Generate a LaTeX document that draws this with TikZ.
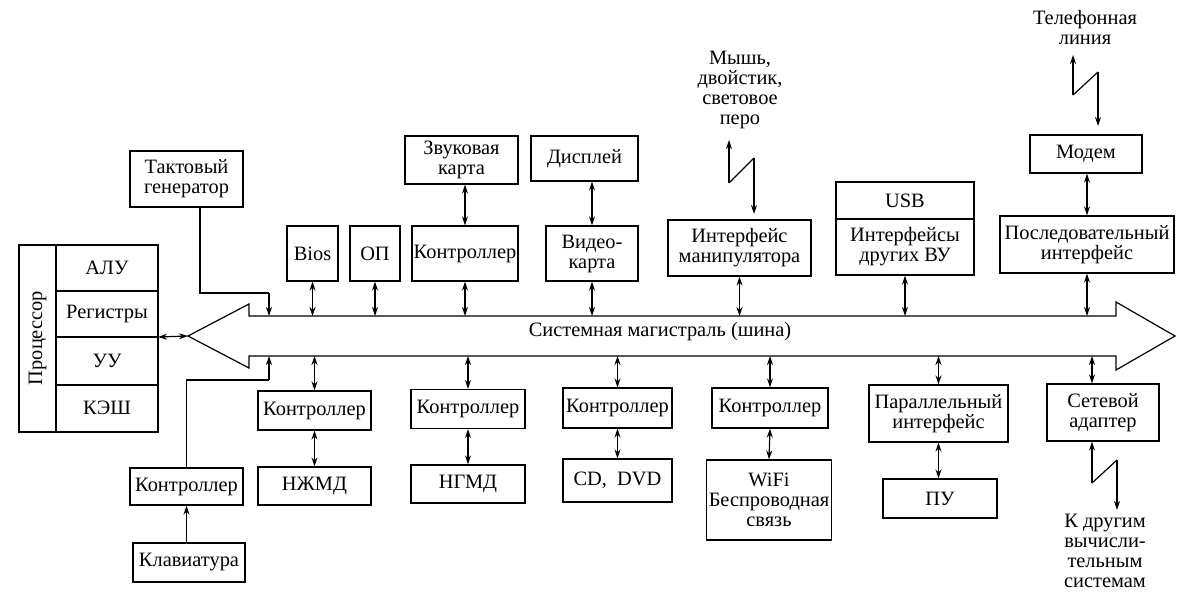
\documentclass[tikz,border=0pt]{standalone}
\usepackage{fontspec}
\setmainfont{Liberation Serif}
\usetikzlibrary{arrows.meta}
\begin{document}
\begin{tikzpicture}[x=0.5pt,y=-0.5pt,
  every node/.style={font=\fontsize{10.2}{10}\selectfont, align=center},
  box/.style={draw, line width=0.6pt, inner sep=0pt},
  ln/.style={line width=0.6pt},
  da/.style={line width=0.6pt, {Stealth[length=4.5pt,width=3pt]}-{Stealth[length=4.5pt,width=3pt]}},
  sa/.style={line width=0.6pt, -{Stealth[length=4.5pt,width=3pt]}},
  txt/.style={inner sep=0pt}]
\useasboundingbox (0,0) rectangle (1200,594);
% bus
\draw[ln] (188,336)--(249,304)--(249,316)--(1116,316)--(1116,302)--(1175,336)--(1116,370)--(1116,356)--(249,356)--(249,368)--cycle;
\node[txt] (bus) at (660,332) {Системная магистраль (шина)};
\coordinate (T) at (0,316);
\coordinate (B) at (0,356);
\coordinate (tip) at (188,336);
% processor
\draw[ln] (19,245) rectangle (158,432);
\draw[ln] (56,245)--(56,432);
\draw[ln] (56,291)--(158,291) (56,337)--(158,337) (56,385)--(158,385);
\node[txt,rotate=90] (proc) at (37.5,338) {Процессор};
\node[txt] (alu) at (107,268) {АЛУ};
\node[txt] (reg) at (107,314) {Регистры};
\node[txt] (uu) at (107,361) {УУ};
\node[txt] (kesh) at (107,408) {КЭШ};
\coordinate (pr) at (158,337);
\draw[da] (pr) -- (tip);
% clock
\node[box,minimum width=113*0.5pt,minimum height=56*0.5pt] (tg) at (186.5,179) {Тактовый\\генератор};
\coordinate (tgc) at (269,293);
\draw[ln] (tg.south -| 200,0) |- (tgc);
\draw[sa] (tgc) -- (tgc|-T);
% keyboard
\node[box,minimum width=113*0.5pt,minimum height=37*0.5pt] (kc) at (186.5,486.5) {Контроллер};
\node[box,minimum width=112*0.5pt,minimum height=39*0.5pt] (kb) at (189,562.5) {Клавиатура};
\draw[sa] (kb.north -| kc.south) -- (kc.south);
\coordinate (kcc) at (269,380);
\draw[ln] (kc.north) |- (kcc);
\draw[sa] (kcc) -- (kcc|-B);
% top row
\node[box,minimum width=51*0.5pt,minimum height=55*0.5pt] (bios) at (312.5,253.5) {Bios};
\node[box,minimum width=50*0.5pt,minimum height=55*0.5pt] (op) at (375,253.5) {ОП};
\node[box,minimum width=106*0.5pt,minimum height=55*0.5pt] (c1) at (465,253.5) {Контроллер};
\node[box,minimum width=113*0.5pt,minimum height=48*0.5pt] (snd) at (461.5,160) {Звуковая\\карта};
\node[box,minimum width=107*0.5pt,minimum height=45*0.5pt] (disp) at (584.5,158.5) {Дисплей};
\node[box,minimum width=92*0.5pt,minimum height=55*0.5pt] (vid) at (592,253.5) {Видео-\\карта};
\node[box,minimum width=143*0.5pt,minimum height=56*0.5pt] (man) at (739.5,248) {Интерфейс\\манипулятора};
\node[box,minimum width=138*0.5pt,minimum height=37*0.5pt] (usb) at (905,200.5) {USB};
\node[box,minimum width=138*0.5pt,minimum height=56*0.5pt] (vu) at (905,247) {Интерфейсы\\других ВУ};
\node[box,minimum width=174*0.5pt,minimum height=57*0.5pt] (ser) at (1087,244.5) {Последовательный\\интерфейс};
\node[box,minimum width=112*0.5pt,minimum height=38*0.5pt] (mod) at (1086,154) {Модем};
\foreach \n in {bios,op,c1,vid,man,vu,ser} \draw[da] (\n.south) -- (\n.south|-T);
\draw[da] (snd.south -| c1.north) -- (c1.north);
\draw[da] (vid.north|-disp.south) -- (vid.north);
\draw[da] (mod.south -| ser.north) -- (ser.north);
% mouse
\node[txt] (mouse) at (740,90) {Мышь,\\двойстик,\\световое\\перо};
\coordinate (m1) at (729,183); \coordinate (m2) at (754,158);
\draw[sa] (m1) -- (729,140);
\draw[ln] (m1) -- (m2);
\draw[sa] (m2) -- (754,214);
% phone
\node[txt] (tel) at (1085,28) {Телефонная\\линия};
\coordinate (p1) at (1073,95); \coordinate (p2) at (1098,72);
\draw[sa] (p1) -- (1073,55);
\draw[ln] (p1) -- (p2);
\draw[sa] (p2) -- (1098,126);
% bottom row
\node[box,minimum width=113*0.5pt,minimum height=39*0.5pt] (c2) at (314.5,410.5) {Контроллер};
\node[box,minimum width=113*0.5pt,minimum height=38*0.5pt] (hdd) at (314.5,486) {НЖМД};
\node[box,minimum width=114*0.5pt,minimum height=39*0.5pt] (c3) at (468,409) {Контроллер};
\node[box,minimum width=114*0.5pt,minimum height=38*0.5pt] (fdd) at (468,484) {НГМД};
\node[box,minimum width=109*0.5pt,minimum height=40*0.5pt] (c4) at (617.5,408) {Контроллер};
\node[box,minimum width=109*0.5pt,minimum height=43*0.5pt] (cd) at (617.5,480.5) {CD,\ \ DVD};
\node[box,minimum width=116*0.5pt,minimum height=40*0.5pt] (c5) at (770,408) {Контроллер};
\node[box,minimum width=125*0.5pt,minimum height=80*0.5pt] (wifi) at (769,500) {WiFi\\Беспроводная\\связь};
\node[box,minimum width=139*0.5pt,minimum height=57*0.5pt] (par) at (938.5,413.5) {Параллельный\\интерфейс};
\node[box,minimum width=114*0.5pt,minimum height=39*0.5pt] (pu) at (940,498.5) {ПУ};
\node[box,minimum width=112*0.5pt,minimum height=57*0.5pt] (net) at (1103,412.5) {Сетевой\\адаптер};
\foreach \n in {c2,c3,c4,c5,par} \draw[da] (\n.north|-B) -- (\n.north);
\draw[da] (net.north -| 1092,0) -- (1092,356);
\draw[da] (c2.south) -- (hdd.north);
\draw[da] (c3.south) -- (fdd.north);
\draw[da] (c4.south) -- (cd.north);
\draw[da] (c5.south) -- (wifi.north);
\draw[da] (par.south) -- (pu.north -| par.south);
% network lightning
\coordinate (n1) at (1092,483); \coordinate (n2) at (1117,460);
\draw[sa] (n1) -- (net.south -| n1);
\draw[ln] (n1) -- (n2);
\draw[sa] (n2) -- (1117,510);
\node[txt,anchor=north] (oth) at (1105,514) {К другим\\вычисли-\\тельным\\системам};
\end{tikzpicture}
\end{document}
